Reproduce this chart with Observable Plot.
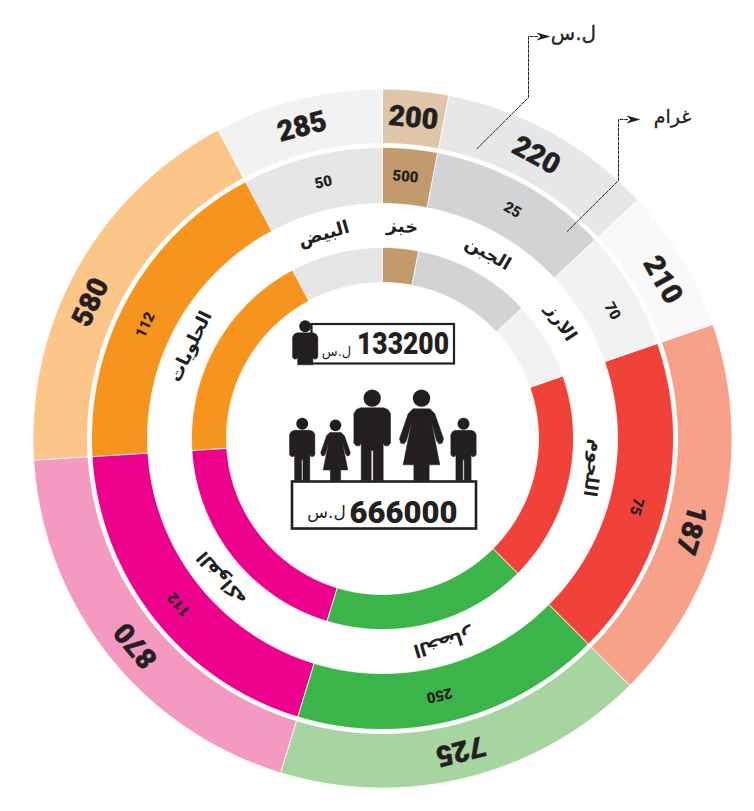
<!DOCTYPE html>
<html lang="ar">
<head>
<meta charset="utf-8">
<script src="https://cdn.jsdelivr.net/npm/d3@7"></script>
<script src="https://cdn.jsdelivr.net/npm/@observablehq/plot@0.6"></script>
<style>
html,body{margin:0;padding:0;background:#fff}
svg{display:block}
</style>
</head>
<body>
<div id="chart"></div>
<script>
// ---- data ----
const categories = ["خبز","الجبن","الارز","اللحوم","الخضار","الفواكه","الحلويات","البيض"];
const pricesLS   = [200,220,210,187,725,870,580,285];
const grams      = [500,25,70,75,250,112,112,50];
const sliceDegrees = [11,36,24,64,62,69.5,65.5,28];
const totalPerson = "133200";
const totalFamily = "666000";
const unitLS = "ل.س";
const unitGrams = "غرام";

// ---- styling / layout ----
const outerColors = ["#dfc6a9","#e6e7e8","#f8f9f8","#f7a288","#a7d5a0","#f49ac1","#fcc688","#f2f2f2"];
const mainColors  = ["#c39a6b","#d1d3d4","#f1f2f2","#f1423a","#3bb54a","#ec008c","#f7941e","#e6e6e6"];
const cx = 382, cy = 438;
const rings = {outer:[295,349.5], middle:[235,291], inner:[156,191]};
const priceAngles = [5.5,28.5,60.5,106.5,166,230,295,345.5];
const gramAngles  = [5,29.6,61,105,167.5,230.8,295.6,347];
const nameAngles  = [5.4,29.7,57,98,163.5,229,295.6,344];
const ink = "#231f20";
const digits = "Roboto, sans-serif";
const arabic = "'DejaVu Sans', sans-serif";

const polar = (r, deg) => {
  const a = deg * Math.PI / 180;
  return [cx + r * Math.sin(a), cy - r * Math.cos(a)];
};
const starts = d3.cumsum([0, ...sliceDegrees]);

function slicePoints(i, [r0, r1]) {
  const a0 = starts[i], a1 = starts[i + 1];
  const n = Math.ceil(a1 - a0) * 2;
  const pts = [];
  for (let k = 0; k <= n; k++) pts.push(polar(r1, a0 + (a1 - a0) * k / n));
  for (let k = n; k >= 0; k--) pts.push(polar(r0, a0 + (a1 - a0) * k / n));
  return pts;
}
const ringMarks = (radii, colors) => categories.map((c, i) =>
  Plot.line(slicePoints(i, radii), {
    x: d => d[0], y: d => d[1], fill: colors[i], stroke: "#fff", strokeWidth: 0.8,
    curve: "linear-closed"
  }));

const ringText = (labels, angles, r, size, family, weight, extra = {}) =>
  Plot.text(labels.map((t, i) => {
    const [x, y] = polar(r, angles[i]);
    return {t: String(t), x, y, a: angles[i]};
  }), {
    x: "x", y: "y", text: "t", rotate: "a", fontSize: size, fontFamily: family,
    fontWeight: weight, fill: ink, textAnchor: "middle", lineAnchor: "middle", ...extra
  });

// pictograms, shapes given as offsets from the foot centre (big adult = 1)
const maleShape = [[-35,-218],[35,-218],[48,-212],[55,-200],[55,-112],[48,-104],[38,-104],[33,-112],[33,0],[3,0],[3,-90],[-3,-90],[-3,0],[-33,0],[-33,-112],[-38,-104],[-48,-104],[-55,-112],[-55,-200],[-48,-212]];
const croppedMale = [[-35,-218],[35,-218],[48,-212],[55,-200],[55,-112],[48,-104],[38,-104],[33,-112],[33,-79],[-33,-79],[-33,-112],[-38,-104],[-48,-104],[-55,-112],[-55,-200],[-48,-212]];
const femaleShape = [[-25,-215],[25,-215],[40,-200],[66,-125],[62,-112],[52,-110],[45,-120],[30,-175],[55,-47],[23,-47],[23,0],[-23,0],[-23,-47],[-55,-47],[-30,-175],[-45,-120],[-52,-110],[-62,-112],[-66,-125],[-40,-200]];
const people = [
  {shape: maleShape,   x: 371.7, foot: 480,   k: 1},
  {shape: femaleShape, x: 421,   foot: 480,   k: 1},
  {shape: maleShape,   x: 301.7, foot: 480,   k: 0.69},
  {shape: femaleShape, x: 335,   foot: 480,   k: 0.67},
  {shape: maleShape,   x: 463,   foot: 480,   k: 0.69},
  {shape: croppedMale, x: 304.7, foot: 382.5, k: 0.69}
];
const unit = 1 / 3;
const personMarks = people.flatMap(p => [
  Plot.line(p.shape, {
    x: d => p.x + d[0] * unit * p.k, y: d => p.foot + d[1] * unit * p.k,
    fill: ink, stroke: ink, strokeWidth: 0.5, curve: "linear-closed"
  }),
  Plot.dot([p], {
    x: d => d.x, y: d => d.foot - 247 * unit * d.k,
    r: 26 * unit * p.k, fill: ink, stroke: null
  })
]);

// dashed leader lines
const leaderLS = [[476.7,148],[528,97],[528,36],[537,36]];
const leaderGrams = [[566.7,231],[618,180],[618,119],[627,119]];
const arrowHead = (x, y) => [[x,y-4],[x+14,y],[x,y+4],[x+4,y]];

const boxes = [
  {x1: 311.5, x2: 454, y1: 324, y2: 363.5, w: 2.2},
  {x1: 292, x2: 476, y1: 481.5, y2: 528.5, w: 2.6}
];

const marks = [
  ...ringMarks(rings.outer, outerColors),
  ...ringMarks(rings.middle, mainColors),
  ...ringMarks(rings.inner, mainColors),
  ringText(pricesLS, priceAngles, 322, 28.5, digits, 900, {stroke: ink, strokeWidth: 0.4}),
  ringText(grams, gramAngles, 263, 15, digits, 900),
  ringText(categories, nameAngles, 213, 18, arabic, 700),
  ...boxes.map(b => Plot.rect([b], {x1: "x1", x2: "x2", y1: "y1", y2: "y2", fill: "#fff", stroke: ink, strokeWidth: b.w})),
  ...personMarks,
  Plot.text([totalPerson], {x: [402.5], y: [344], text: d => d, fontSize: 31, fontFamily: digits, fontWeight: 900, fill: ink, lineAnchor: "middle"}),
  Plot.text([totalFamily], {x: [403], y: [513], text: d => d, fontSize: 31, fontFamily: digits, fontWeight: 900, fill: ink, lineAnchor: "middle"}),
  Plot.text([unitLS], {x: [336], y: [351], text: d => d, fontSize: 13, fontFamily: arabic, fill: ink, lineAnchor: "middle"}),
  Plot.text([unitLS], {x: [326], y: [512], text: d => d, fontSize: 17, fontFamily: arabic, fill: ink, lineAnchor: "middle"}),
  Plot.line(leaderLS, {x: d => d[0], y: d => d[1], stroke: ink, strokeWidth: 1, strokeDasharray: "3,1.5"}),
  Plot.line(leaderGrams, {x: d => d[0], y: d => d[1], stroke: ink, strokeWidth: 1, strokeDasharray: "3,1.5"}),
  Plot.line(arrowHead(536,36), {x: d => d[0], y: d => d[1], fill: ink, stroke: null, curve: "linear-closed"}),
  Plot.line(arrowHead(626,119), {x: d => d[0], y: d => d[1], fill: ink, stroke: null, curve: "linear-closed"}),
  Plot.text([unitLS], {x: [573], y: [33], text: d => d, fontSize: 20, fontFamily: arabic, fill: ink, stroke: ink, strokeWidth: 0.3, lineAnchor: "middle"}),
  Plot.text([unitGrams], {x: [672], y: [116], text: d => d, fontSize: 19, fontFamily: arabic, fill: ink, stroke: ink, strokeWidth: 0.3, lineAnchor: "middle"})
];

const chart = Plot.plot({
  width: 754, height: 811, margin: 0,
  x: {domain: [0, 754], range: [0, 754], axis: null},
  y: {domain: [0, 811], range: [0, 811], axis: null},
  marks
});
// the reference's digits are condensed: fit the person total inside its box
d3.select(chart).selectAll("text")
  .filter(function () { return this.textContent === totalPerson; })
  .attr("textLength", 92).attr("lengthAdjust", "spacingAndGlyphs");
document.getElementById("chart").append(chart);
</script>
</body>
</html>
